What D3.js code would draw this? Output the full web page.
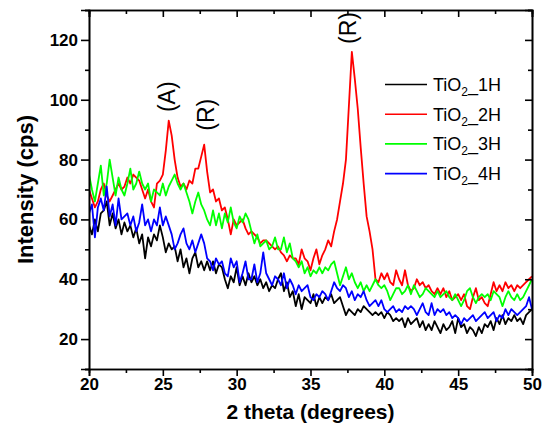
<!DOCTYPE html>
<html>
<head>
<meta charset="utf-8">
<script src="https://cdn.jsdelivr.net/npm/d3@7"></script>
<style>
  body { margin: 0; background: #fff; }
  svg { font-family: Arial, "Liberation Sans", sans-serif; }
</style>
</head>
<body>
<div id="chart"></div>
<script>
// 2 theta sampling grid (degrees), one reading every 0.2 deg from 20 to 50
const twoTheta = d3.range(151).map(i => 20 + i * 0.2);

// intensities (cps), one row per degree
const tio2_1H = [
  58, 55, 60, 56, 62,  63, 66, 58, 62, 57,  60, 55, 59, 56, 58,  54, 57, 52, 55, 47,
  54, 51, 55, 53, 58,  54, 49, 52, 50, 51,  46, 50, 44, 47, 42,  47, 49, 44, 46, 43,
  46, 43, 46, 42, 45,  44, 40, 37, 41, 39,  44, 38, 41, 38, 42,  39, 41, 38, 40, 37,
  39, 36, 38, 37, 40,  42, 36, 39, 34, 36,  31, 35, 30, 34, 33,  32, 35, 31, 34, 32,
  34, 33, 35, 32, 33,  34, 31, 28, 30, 29,  28, 30, 29, 31, 30,  29, 28, 29, 28, 29,
  27, 29, 28, 26, 27,  26, 27, 24, 27, 25,  26, 27, 24, 26, 23,  25, 23, 26, 24, 22,
  25, 23, 24, 26, 22,  27, 24, 25, 22, 24,  23, 21, 24, 22, 25,  24, 26, 23, 27, 25,
  28, 25, 27, 26, 28,  26, 27, 25, 28, 29,  30
];
const tio2_2H = [
  70, 67, 64, 66, 70,  72, 68, 66, 68, 70,  72, 70, 71, 74, 72,  75, 74, 73, 70, 67,
  70, 66, 64, 72, 73,  75, 83, 93, 88, 80,  74, 71, 72, 70, 73,  72, 77, 77, 81, 85,
  76, 69, 70, 66, 67,  63, 64, 60, 55, 60,  58, 59, 60, 57, 55,  56, 55, 54, 52, 53,
  53, 52, 51, 50, 51,  49, 48, 46, 48, 47,  47, 45, 50, 47, 46,  43, 47, 50, 45, 48,
  50, 53, 51, 56, 60,  66, 72, 80, 98, 116, 107, 97, 84, 72, 61,  56, 50, 40, 39, 42,
  40, 42, 39, 38, 43,  40, 38, 43, 38, 36,  37, 40, 38, 39, 37,  38, 36, 35, 37, 35,
  37, 34, 36, 33, 34,  35, 33, 35, 31, 30,  34, 37, 33, 34, 32,  31, 35, 39, 36, 38,
  36, 39, 37, 38, 36,  38, 37, 38, 39, 40,  41
];
const tio2_3H = [
  75, 70, 66, 72, 78,  68, 72, 80, 74, 68,  74, 70, 68, 72, 77,  70, 72, 76, 72, 70,
  72, 66, 70, 69, 68,  72, 68, 71, 73, 75,  72, 70, 72, 69, 66,  62, 66, 69, 65, 63,
  60, 58, 63, 58, 62,  57, 62, 59, 64, 59,  57, 61, 59, 62, 60,  56, 52, 55, 51, 52,
  53, 50, 51, 54, 50,  50, 54, 49, 52, 47,  46, 44, 46, 42, 44,  41, 43, 42, 44, 42,
  44, 43, 45, 46, 42,  38, 41, 44, 40, 42,  39, 37, 39, 36, 38,  36, 38, 40, 38, 37,
  38, 36, 33, 35, 37,  37, 35, 36, 38, 35,  38, 36, 34, 35, 37,  36, 35, 34, 36, 34,
  35, 36, 34, 33, 35,  33, 31, 33, 36, 37,  34, 32, 34, 35, 34,  35, 33, 36, 35, 34,
  31, 34, 36, 34, 33,  35, 33, 34, 36, 38,  40
];
const tio2_4H = [
  62, 65, 54, 64, 67,  63, 71, 61, 65, 58,  67, 60, 61, 62, 58,  61, 56, 59, 65, 58,
  60, 56, 60, 58, 64,  58, 61, 58, 55, 50,  52, 55, 57, 52, 50,  53, 49, 52, 55, 52,
  47, 46, 43, 47, 45,  46, 42, 41, 47, 44,  46, 39, 42, 46, 40,  40, 45, 39, 42, 49,
  42, 40, 38, 41, 40,  38, 42, 37, 40, 38,  35, 38, 36, 37, 38,  34, 33, 35, 34, 36,
  35, 33, 36, 39, 37,  36, 38, 37, 34, 36,  33, 35, 34, 36, 33,  31, 32, 33, 31, 33,
  30, 29, 30, 31, 29,  30, 29, 31, 30, 31,  30, 28, 30, 32, 29,  28, 32, 28, 30, 29,
  30, 28, 29, 27, 28,  27, 25, 27, 26, 27,  28, 26, 27, 28, 29,  27, 28, 29, 26, 28,
  27, 30, 28, 30, 29,  28, 29, 30, 31, 34,  30
];

const seriesNames = ["1H", "2H", "3H", "4H"];
const seriesValues = [tio2_1H, tio2_2H, tio2_3H, tio2_4H];
const seriesColors = ["#000000", "#ff0000", "#00ff00", "#0000ff"];

// peak annotations, placed in data units above each peak
const peakLabels = [
  { x: 25.35, v: 101, text: "(A)" },
  { x: 28.0, v: 95, text: "(R)" },
  { x: 37.6, v: 124, text: "(R)" }
];

const xMajor = [20, 25, 30, 35, 40, 45, 50];
const xMinor = [22.5, 27.5, 32.5, 37.5, 42.5, 47.5];
const yMajor = [20, 40, 60, 80, 100, 120];
const yMinor = [10, 30, 50, 70, 90, 110, 130];

const W = 542, H = 433;
const margin = {top: 10, right: 10, bottom: 64, left: 89};
const width = W - margin.left - margin.right,
  height = H - margin.top - margin.bottom;

const svg = d3.select("#chart").append("svg")
  .attr("width", W)
  .attr("height", H);

const g = svg.append("g")
  .attr("transform", `translate(${margin.left},${margin.top})`);

const x = d3.scaleLinear().domain([20, 50]).range([0, width]);
const y = d3.scaleLinear().domain([10, 130]).range([height, 0]);

g.append("clipPath").attr("id", "plotClip")
  .append("rect").attr("width", width).attr("height", height);

/////////////////////// series ///////////////////////
const line = d3.line()
  .x((d, i) => x(twoTheta[i]))
  .y(d => y(d));

g.append("g").attr("clip-path", "url(#plotClip)")
  .selectAll("path")
  .data(seriesValues)
  .enter().append("path")
  .attr("d", d => line(d))
  .attr("fill", "none")
  .attr("stroke", (d, i) => seriesColors[i])
  .attr("stroke-width", 1.8)
  .attr("stroke-linejoin", "round");

/////////////////////// axes ///////////////////////
function styleAxis(sel) {
  sel.selectAll("path.domain").attr("stroke-width", 1.6);
  sel.selectAll(".tick line").attr("stroke-width", 1.6);
  sel.selectAll("text")
    .style("font-size", "17px")
    .style("font-weight", "bold")
    .attr("fill", "#000");
}

// bottom
g.append("g").attr("transform", `translate(0,${height})`)
  .call(d3.axisBottom(x).tickValues(xMajor).tickSize(7).tickPadding(2).tickFormat(d3.format("d")))
  .call(styleAxis);
g.append("g").attr("transform", `translate(0,${height})`)
  .call(d3.axisBottom(x).tickValues(xMinor).tickSize(4).tickFormat(""))
  .call(styleAxis);
// top (inward)
g.append("g")
  .call(d3.axisBottom(x).tickValues(xMajor).tickSize(7).tickFormat(""))
  .call(styleAxis);
g.append("g")
  .call(d3.axisBottom(x).tickValues(xMinor).tickSize(4).tickFormat(""))
  .call(styleAxis);
// left
g.append("g")
  .call(d3.axisLeft(y).tickValues(yMajor).tickSize(8).tickPadding(3).tickFormat(d3.format("d")))
  .call(styleAxis);
g.append("g")
  .call(d3.axisLeft(y).tickValues(yMinor).tickSize(4).tickFormat(""))
  .call(styleAxis);
// right (inward)
g.append("g").attr("transform", `translate(${width},0)`)
  .call(d3.axisLeft(y).tickValues(yMajor).tickSize(7).tickFormat(""))
  .call(styleAxis);
g.append("g").attr("transform", `translate(${width},0)`)
  .call(d3.axisLeft(y).tickValues(yMinor).tickSize(4).tickFormat(""))
  .call(styleAxis);

// axis titles
svg.append("text")
  .attr("x", margin.left + width / 2)
  .attr("y", 419)
  .attr("text-anchor", "middle")
  .style("font-size", "21px")
  .style("font-weight", "bold")
  .text("2 theta (degrees)");

svg.append("text")
  .attr("transform", `translate(33,${margin.top + height / 2}) rotate(-90)`)
  .attr("text-anchor", "middle")
  .style("font-size", "22px")
  .style("font-weight", "bold")
  .text("Intensity (cps)");

/////////////////////// peak labels ///////////////////////
g.selectAll(".peak")
  .data(peakLabels)
  .enter().append("text")
  .attr("class", "peak")
  .attr("transform", d => `translate(${x(d.x)},${y(d.v)}) rotate(-90)`)
  .attr("text-anchor", "middle")
  .attr("dy", "0.3em")
  .style("font-size", "23px")
  .text(d => d.text);

/////////////////////// legend ///////////////////////
const legend = svg.append("g").attr("transform", "translate(385,84.5)");
const item = legend.selectAll("g")
  .data(seriesNames)
  .enter().append("g")
  .attr("transform", (d, i) => `translate(0,${i * 29.7})`);
item.append("line")
  .attr("x1", 0).attr("x2", 42)
  .attr("stroke", (d, i) => seriesColors[i])
  .attr("stroke-width", 1.6);
const label = item.append("text")
  .attr("x", 48)
  .attr("y", 6.5)
  .style("font-size", "18px");
label.append("tspan").text("TiO");
label.append("tspan").attr("dy", 5).style("font-size", "12px").text("2");
label.append("tspan").attr("dy", -5).text(d => "_" + d);
</script>
</body>
</html>
